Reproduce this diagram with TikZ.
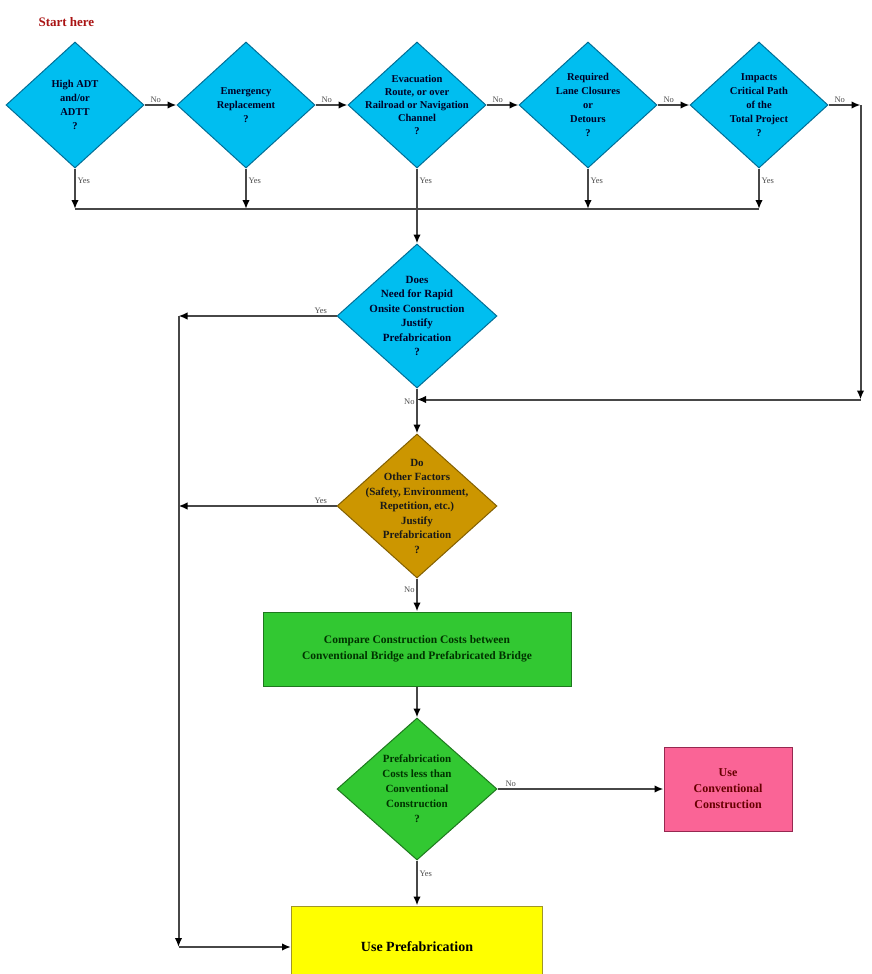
\documentclass[tikz,border=0pt]{standalone}
\usepackage{fontspec}
\setmainfont{Liberation Serif}
\usetikzlibrary{arrows.meta,positioning,calc,shapes.geometric}

\definecolor{skyfill}{RGB}{0,190,240}
\definecolor{skyedge}{RGB}{0,110,150}
\definecolor{goldfill}{RGB}{204,150,0}
\definecolor{goldedge}{RGB}{130,95,0}
\definecolor{leaffill}{RGB}{50,200,50}
\definecolor{leafedge}{RGB}{30,120,30}
\definecolor{rosefill}{RGB}{250,100,150}
\definecolor{roseedge}{RGB}{150,40,80}
\definecolor{sunfill}{RGB}{255,255,0}
\definecolor{sunedge}{RGB}{160,150,40}
\definecolor{starttext}{RGB}{170,20,20}

\begin{document}
\begin{tikzpicture}[
    x=1pt, y=1pt,
    node distance=32pt,
    decision/.style={diamond, draw=skyedge, fill=skyfill, line width=1pt, inner sep=0pt,
        minimum width=138pt, minimum height=126pt},
    bigdecision/.style={decision, minimum width=160pt, minimum height=144pt},
    qtext/.style={align=center, font=\fontsize{10.5}{14}\selectfont\bfseries, text=black!85!blue},
    bigq/.style={qtext, font=\fontsize{11}{14.5}\selectfont\bfseries},
    stepbox/.style={rectangle, line width=1pt, align=center, font=\fontsize{11.5}{16}\selectfont\bfseries},
    lab/.style={font=\fontsize{8.5}{9}\selectfont, text=black!70, inner sep=1.5pt},
    flow/.style={-{Latex[length=9pt,width=7.5pt,fill=black,color=black]}, line width=2pt, draw=black!72},
    line/.style={line width=2pt, draw=black!72},
]
    \useasboundingbox (0,0) rectangle (871,-974);

    \node[anchor=west, font=\fontsize{13}{14}\selectfont\bfseries, text=starttext] (start) at (35,-22) {Start here};

    % first row of questions
    \node[decision, label={[qtext]center:{High ADT\\and/or\\ADTT\\?}}] (adt) at (75,-105) {};
    \node[decision, right=of adt, label={[qtext]center:{Emergency\\Replacement\\?}}] (emerg) {};
    \node[decision, right=of emerg, label={[qtext, font=\fontsize{10.5}{13}\selectfont\bfseries]center:{Evacuation\\Route, or over\\Railroad or Navigation\\Channel\\?}}] (evac) {};
    \node[decision, right=of evac, label={[qtext]center:{Required\\Lane Closures\\or\\Detours\\?}}] (lane) {};
    \node[decision, right=of lane, label={[qtext]center:{Impacts\\Critical Path\\of the\\Total Project\\?}}] (crit) {};

    % main column
    \node[bigdecision, below=75pt of evac, label={[bigq]center:{Does\\Need for Rapid\\Onsite Construction\\Justify\\Prefabrication\\?}}] (rapid) {};
    \node[bigdecision, fill=goldfill, draw=goldedge, below=45pt of rapid,
        label={[bigq, text=black!90]center:{Do\\Other Factors\\(Safety, Environment,\\Repetition, etc.)\\Justify\\Prefabrication\\?}}] (other) {};
    \node[stepbox, fill=leaffill, draw=leafedge, text=black!80!green, minimum width=308pt, minimum height=74pt,
        below=33pt of other] (compare) {Compare Construction Costs between\\Conventional Bridge and Prefabricated Bridge};
    \node[bigdecision, fill=leaffill, draw=leafedge, minimum height=142pt, below=31pt of compare,
        label={[bigq, text=black!80!green, font=\fontsize{11}{15}\selectfont\bfseries]center:{Prefabrication\\Costs less than\\Conventional\\Construction\\?}}] (cheap) {};
    \node[stepbox, fill=rosefill, draw=roseedge, text=black!60!red, font=\fontsize{12}{16}\selectfont\bfseries,
        minimum width=128pt, minimum height=84pt, right=166pt of cheap] (conv) {Use\\Conventional\\Construction};
    \node[stepbox, fill=sunfill, draw=sunedge, font=\fontsize{14}{16}\selectfont\bfseries,
        minimum width=251pt, minimum height=82pt, below=45pt of cheap] (prefab) {Use Prefabrication};

    % helper points
    \coordinate (bus) at (0,-209);
    \coordinate (rtop) at ($(crit.east)+(32,0)$);
    \coordinate (merge) at ($(rapid.south)+(0,-11)$);
    \coordinate (rbot) at (rtop |- merge);
    \coordinate (lj6) at ($(rapid.west)+(-158,0)$);
    \coordinate (lj7) at (lj6 |- other.west);
    \coordinate (ljb) at (lj6 |- prefab.west);

    % No along the first row
    \draw[flow] (adt.east) -- node[lab, above, pos=0.35] {No} (emerg.west);
    \draw[flow] (emerg.east) -- node[lab, above, pos=0.35] {No} (evac.west);
    \draw[flow] (evac.east) -- node[lab, above, pos=0.35] {No} (lane.west);
    \draw[flow] (lane.east) -- node[lab, above, pos=0.35] {No} (crit.west);
    \draw[flow] (crit.east) -- node[lab, above, pos=0.35] {No} (rtop);
    \draw[flow] (rtop) -- (rbot);
    \draw[flow] (rbot) -- (merge);

    % Yes down to the bus
    \draw[flow] (adt.south) -- node[lab, right, pos=0.3] {Yes} (adt |- bus);
    \draw[flow] (emerg.south) -- node[lab, right, pos=0.3] {Yes} (emerg |- bus);
    \draw[flow] (lane.south) -- node[lab, right, pos=0.3] {Yes} (lane |- bus);
    \draw[flow] (crit.south) -- node[lab, right, pos=0.3] {Yes} (crit |- bus);
    \draw[line] (adt |- bus) -- (crit |- bus);
    \draw[flow] (evac.south) -- node[lab, right, pos=0.16] {Yes} (rapid.north);

    % main column
    \draw[flow] (rapid.south) -- node[lab, left, pos=0.3] {No} (other.north);
    \draw[flow] (other.south) -- node[lab, left, pos=0.35] {No} (compare.north);
    \draw[flow] (compare.south) -- (cheap.north);
    \draw[flow] (cheap.east) -- node[lab, above, pos=0.08] {No} (conv.west);
    \draw[flow] (cheap.south) -- node[lab, right, pos=0.3] {Yes} (prefab.north);

    % Yes branches on the left
    \draw[flow] (rapid.west) -- node[lab, above, pos=0.1] {Yes} (lj6);
    \draw[flow] (other.west) -- node[lab, above, pos=0.1] {Yes} (lj7);
    \draw[flow] (lj6) -- (ljb);
    \draw[flow] (ljb) -- (prefab.west);
\end{tikzpicture}
\end{document}
